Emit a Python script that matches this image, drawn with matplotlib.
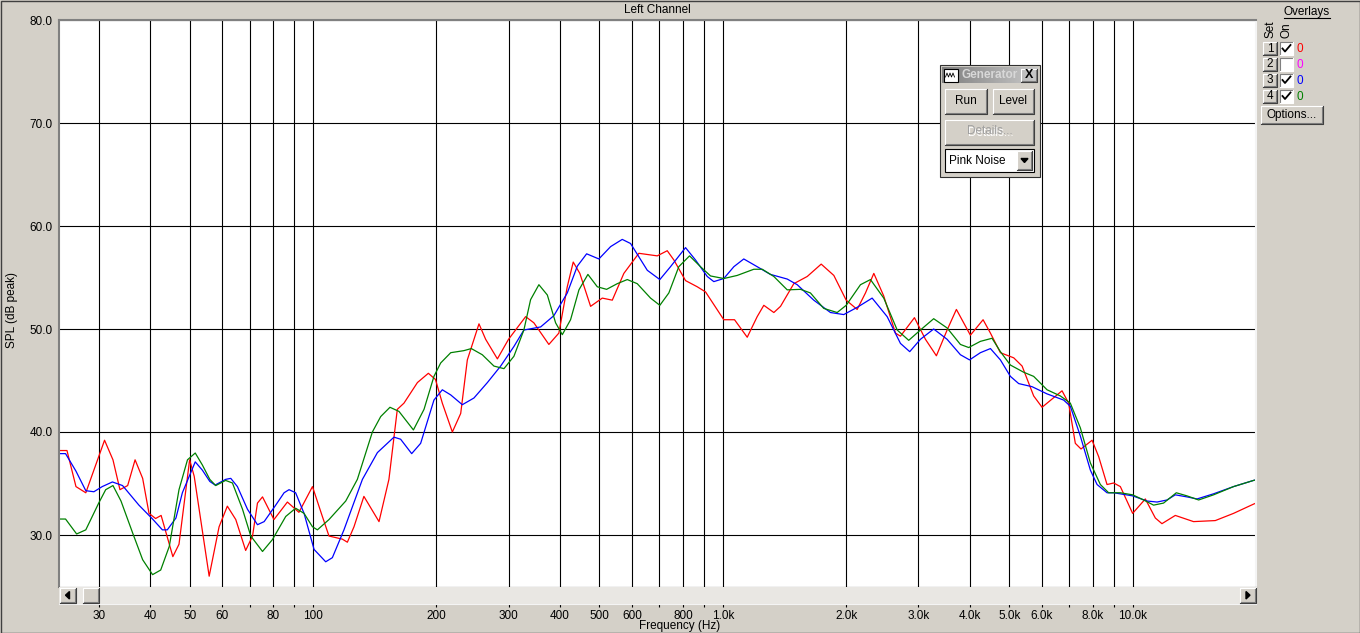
import numpy as np
import matplotlib.pyplot as plt
from matplotlib.patches import Rectangle, Polygon
from matplotlib.ticker import NullLocator

plt.rcParams['font.family'] = ['Liberation Sans', 'DejaVu Sans']
plt.rcParams['font.size'] = 8.5

# --- data (Hz, dB peak) ---
red_f = [24.1, 25.1, 26.4, 27.9, 31.0, 32.5, 33.8, 35.3, 36.8, 38.4, 39.8, 41.3, 42.6,
         45.5, 47.1, 50.0, 51.3, 55.8, 59.0, 61.8, 64.8, 68.5, 71.2, 73.2, 75.3, 80.3,
         86.6, 92.4, 99.7, 105.4, 109.4, 117.9, 121.3, 125.9, 133.1, 144.9, 153.2, 160.6,
         166.7, 179.8, 191.2, 199, 206.8, 218.8, 229.3, 238, 254.1, 263.8, 281.8, 300,
         330.3, 345.9, 376.3, 398, 417.3, 431.5, 447.8, 475.7, 508, 537.4, 573.5, 623.8,
         691.8, 731.8, 759.6, 811, 866.1, 907.5, 1005.5, 1068, 1147, 1213, 1259, 1332,
         1383, 1490, 1607, 1738, 1866, 2000, 2127, 2229, 2336, 2470, 2638, 2713, 2935,
         3122, 3320, 3526, 3715, 4019, 4316, 4498, 4757, 5127, 5374, 5735, 6012, 6726,
         6980, 7247, 7482, 7962, 8264, 8660, 8990, 9333, 10000, 10740, 11360, 11790,
         12710, 14080, 15910, 17630, 19730, 20000]
red_db = [38.2, 38.2, 34.7, 34.1, 39.2, 37.3, 34.4, 34.8, 37.3, 35.5, 32.1, 31.6, 31.9,
          27.9, 29.1, 37.3, 35.7, 26.0, 30.8, 32.8, 31.5, 28.5, 29.9, 33.1, 33.7, 31.5,
          33.2, 32.2, 34.7, 31.8, 29.9, 29.6, 29.3, 30.8, 33.75, 31.3, 35.4, 42.2,
          42.8, 44.8, 45.7, 45.1, 42.8, 40.0, 41.8, 47.0, 50.5, 49.0, 47.1, 49.0,
          51.2, 50.6, 48.5, 49.6, 54.1, 56.5, 55.4, 52.2, 53.0, 52.8, 55.4, 57.35,
          57.1, 57.6, 56.7, 54.7, 54.1, 53.6, 50.9, 50.9, 49.2, 51.2, 52.3, 51.6,
          52.2, 54.4, 55.1, 56.3, 55.2, 52.8, 51.9, 53.5, 55.4, 53.2, 49.6, 49.3, 51.1,
          49.0, 47.4, 49.9, 51.9, 49.4, 50.9, 49.6, 47.7, 47.2, 46.4, 43.5, 42.4, 44.0,
          42.8, 38.9, 38.35, 39.2, 37.6, 34.9, 35.05, 34.7, 32.1, 33.5, 31.65, 31.1,
          31.9, 31.3, 31.4, 32.1, 33.0, 33.1]

blue_f = [24.1, 24.9, 26.4, 27.9, 29.2, 30.6, 32.4, 34.3, 37.6, 40.6, 42.9, 44.1, 46.3,
          48.0, 51.6, 53.7, 56.0, 57.7, 61.2, 63.0, 65.4, 69.2, 73.2, 76.0, 81.1, 85.0,
          87.4, 90.7, 95.1, 100.6, 107.4, 111.5, 119.0, 132.0, 143.6, 157.6, 163.6,
          174.1, 183.1, 197.3, 206.8, 216.8, 231.4, 247, 266.4, 287, 309.2, 327, 359.3,
          387.1, 417.3, 441.5, 465.3, 498.4, 532.4, 568.3, 595.5, 654.2, 702, 745.4,
          811, 857.8, 916.2, 950.6, 1005.5, 1064, 1125, 1213, 1307, 1436, 1519, 1667,
          1831, 1973, 2127, 2314, 2518, 2713, 2858, 3035, 3270, 3526, 3800, 4000, 4251,
          4498, 4757, 5032, 5272, 5683, 6182, 6787, 7047, 7455, 7886, 8189, 8660, 8990,
          10000, 10840, 11470, 12130, 12710, 13570, 14360, 15760, 17630, 19730, 20000]
blue_db = [37.9, 37.9, 36.2, 34.3, 34.2, 34.7, 35.15, 34.8, 32.9, 31.55, 30.5, 30.5, 31.65,
           34.1, 37.1, 36.3, 35.2, 34.85, 35.4, 35.5, 34.7, 32.5, 31.0, 31.3, 32.9, 34.1,
           34.4, 34.1, 32.1, 28.6, 27.4, 27.8, 30.5, 35.4, 38.0, 39.5, 39.3,
           37.9, 38.9, 43.1, 44.1, 43.6, 42.65, 43.3, 44.8, 46.4, 48.3, 49.9, 50.2,
           51.3, 53.5, 56.1, 57.3, 56.8, 58.0, 58.7, 58.3, 55.7, 54.8, 56.05,
           57.9, 56.7, 55.1, 54.6, 54.9, 56.05, 56.8, 56.05, 55.3, 54.85, 54.3, 52.8,
           51.6, 51.4, 52.1, 53.0, 51.2, 48.6, 47.8, 49.0, 50.0, 49.0, 47.5, 47.0, 47.7,
           48.1, 47.0, 45.4, 44.7, 44.4, 43.7, 43.1, 42.5, 39.6, 36.3, 34.9, 34.1, 34.1,
           33.8, 33.3, 33.2, 33.4, 33.9, 33.7, 33.5, 34.0, 34.7, 35.3, 35.35]

green_f = [24.1, 24.9, 26.5, 27.9, 30.0, 31.2, 32.5, 34.0, 36.3, 38.4, 40.6, 42.5, 44.6,
           47.1, 49.4, 51.6, 53.7, 56.0, 57.9, 61.2, 63.6, 67.3, 70.5, 75.3, 79.6, 85.8,
           90.7, 95.1, 99.7, 102.5, 109.4, 120.2, 128.3, 139.6, 146.3, 154.1, 162.1,
           175.8, 186.6, 197.3, 204.9, 216.8, 233.5, 243.4, 258.9, 276.4, 292.4, 309.2,
           327, 339.6, 355.8, 373.1, 390.8, 405.8, 425.1, 445.6, 468.6, 494, 520.5,
           552.6, 584.6, 618.3, 666.3, 702, 738.4, 780.9, 829.5, 882.2, 933.3, 1005.5,
           1084, 1190, 1248, 1332, 1436, 1547, 1636, 1763, 1901, 2000, 2167, 2292, 2470,
           2664, 2842, 3035, 3270, 3526, 3800, 3981, 4251, 4539, 4757, 5032, 5423, 5735,
           6182, 6663, 7047, 7455, 7886, 8341, 8739, 9333, 10000, 10640, 11250, 11900,
           12780, 13570, 14490, 15760, 17630, 19730, 20000]
green_db = [31.55, 31.55, 30.1, 30.5, 33.1, 34.4, 34.8, 33.3, 30.2, 27.6, 26.15, 26.6, 28.9,
            34.4, 37.3, 37.96, 36.8, 35.4, 34.8, 35.3, 35.05, 32.5, 29.9, 28.4, 29.55, 31.8,
            32.6, 32.1, 30.8, 30.5, 31.5, 33.3, 35.4, 40.0, 41.5, 42.4, 42.0,
            40.2, 42.2, 45.4, 46.7, 47.7, 47.9, 48.1, 47.5, 46.4, 46.15, 47.35,
            49.9, 52.85, 54.3, 53.3, 50.6, 49.45, 50.9, 53.8, 55.3, 54.1, 53.85,
            54.4, 54.8, 54.4, 53.0, 52.3, 53.5, 56.05, 57.1, 56.05, 55.15, 54.9,
            55.2, 55.8, 55.8, 55.1, 53.8, 53.85, 53.5, 52.0, 51.6, 52.3, 54.3, 54.8, 53.0,
            49.9, 48.9, 49.9, 51.0, 50.1, 48.5, 48.2, 48.8, 49.1, 47.8, 46.5, 45.8, 45.4,
            44.1, 43.5, 42.8, 40.4, 37.0, 34.9, 34.1, 34.1, 33.9, 33.4, 32.9, 33.1,
            34.1, 33.8, 33.4, 33.9, 34.7, 35.3, 35.35]

tick_f = [30, 40, 50, 60, 70, 80, 90, 100, 200, 300, 400, 500, 600, 700, 800, 900,
          1000, 2000, 3000, 4000, 5000, 6000, 7000, 8000, 9000, 10000]
tick_lbl = ['30', '40', '50', '60', '', '80', '', '100', '200', '300', '400', '500', '600',
            '', '800', '', '1.0k', '2.0k', '3.0k', '4.0k', '5.0k', '6.0k', '', '8.0k', '',
            '10.0k']
y_ticks = [30, 40, 50, 60, 70, 80]

BG = '#D4D0C8'
W, H = 1360, 633

fig = plt.figure(figsize=(13.6, 6.33), dpi=100, facecolor=BG)

L, R, T, B = 59, 1256, 20, 586.5
ax = fig.add_axes([L / W, 1 - B / H, (R - L) / W, (B - T) / H])
sax = fig.add_axes([L / W, 1 - 604 / H, (R - L) / W, (604 - B) / H], sharex=ax)

ax.plot(red_f, red_db, color='#FF0000', lw=0.9)
ax.plot(blue_f, blue_db, color='#0000FF', lw=0.9)
ax.plot(green_f, green_db, color='#008000', lw=0.9)

ax.set_xscale('log')
ax.set_xlim(24, 20000)
ax.set_ylim(25, 80)
ax.set_xticks(tick_f, tick_lbl)
ax.xaxis.set_minor_locator(NullLocator())
ax.set_yticks(y_ticks, ['%.1f' % v for v in y_ticks])
ax.grid(True, color='black', lw=0.8)
ax.tick_params(axis='x', length=0, labelbottom=False)
ax.tick_params(axis='y', length=0, pad=4.5, labelsize=8.5)
for s in ['top', 'left']:
    ax.spines[s].set_color('#808080')
    ax.spines[s].set_linewidth(1.5)
ax.spines['right'].set_color('#F4F4F4')
ax.spines['right'].set_linewidth(1.5)
ax.spines['bottom'].set_color('black')
ax.spines['bottom'].set_linewidth(0.8)

# scrollbar strip with the frequency labels under it
sax.set_facecolor('#E9E7E3')
sax.set_yticks([])
sax.tick_params(axis='x', direction='out', length=2.5, width=0.8, pad=1.8,
                labelsize=8.5, color='black')
for s in ['top', 'left', 'bottom']:
    sax.spines[s].set_visible(False)
sax.spines['right'].set_color('#F4F4F4')
sax.spines['bottom'].set_visible(True)
sax.spines['bottom'].set_color('#F4F4F4')

# pixel overlay for window furniture
ov = fig.add_axes([0, 0, 1, 1], zorder=10)
ov.set_xlim(0, W)
ov.set_ylim(H, 0)
ov.axis('off')
ov.patch.set_alpha(0)


def bevel(x0, y0, x1, y1, face=BG):
    ov.add_patch(Rectangle((x0, y0), x1 - x0, y1 - y0, facecolor=face, edgecolor='none'))
    ov.plot([x0, x0, x1], [y1, y0, y0], color='white', lw=0.8)
    ov.plot([x0 + 1, x1 - 1, x1 - 1], [y1 - 1, y1 - 1, y0 + 1], color='#808080', lw=0.8)
    ov.plot([x0, x1, x1], [y1, y1, y0], color='#404040', lw=0.8)


def sunken(x0, y0, x1, y1, face='white'):
    ov.add_patch(Rectangle((x0, y0), x1 - x0, y1 - y0, facecolor=face, edgecolor='none'))
    ov.plot([x0, x0, x1], [y1, y0, y0], color='#808080', lw=0.8)
    ov.plot([x0, x1, x1], [y1, y1, y0], color='white', lw=0.8)


# outer border
ov.add_patch(Rectangle((0.5, 0.5), W - 1, H - 1, facecolor='none', edgecolor='#404040', lw=1))

ov.text(657, 10, 'Left Channel', ha='center', va='center')
ov.text(12, 310, 'SPL (dB peak)', ha='center', va='center', rotation=90)
ov.text(680, 626, 'Frequency (Hz)', ha='center', va='center')

# scroll buttons
bevel(60, 587.5, 75.5, 603)
ov.add_patch(Polygon([[69.5, 591.5], [69.5, 599], [65.5, 595.2]], closed=True, color='black'))
bevel(83, 587.5, 99, 603)
bevel(1240, 587.5, 1255.5, 603)
ov.add_patch(Polygon([[1246, 591.5], [1246, 599], [1250, 595.2]], closed=True, color='black'))

# generator window
ov.add_patch(Rectangle((940, 65), 100, 112, facecolor=BG, edgecolor='#303030', lw=0.8))
grad = np.linspace(0, 1, 64).reshape(1, -1)
ov.imshow(grad, cmap=plt.matplotlib.colors.LinearSegmentedColormap.from_list(
    'tb', ['#808080', '#C8C8C8']), extent=(942, 1038, 83, 67), aspect='auto', zorder=2)
ov.set_xlim(0, W)
ov.set_ylim(H, 0)
ov.add_patch(Rectangle((943.5, 68.5), 14, 13, facecolor='white', edgecolor='black', lw=0.8,
                       zorder=3))
ov.plot([945.5, 947, 948.5, 950, 951.5, 953, 954.5], [77, 73, 77, 73, 77, 73, 77],
        color='black', lw=0.6, zorder=4)
ov.text(961, 75.5, 'Generator', ha='left', va='center', fontweight='bold', color='#D8D8D8',
        zorder=4)
bevel(1021, 68.5, 1036.5, 81.5)
ov.text(1028.7, 75.2, 'X', ha='center', va='center', fontweight='bold', fontsize=9)
bevel(945, 89, 987, 114)
ov.text(966, 101.5, 'Run', ha='center', va='center')
bevel(993, 89, 1034, 114)
ov.text(1013.5, 101.5, 'Level', ha='center', va='center')
bevel(945, 119.5, 1034, 144.5)
ov.text(990.5, 132.5, 'Details...', ha='center', va='center', color='white')
ov.text(989.5, 131.5, 'Details...', ha='center', va='center', color='#A0A0A0')
ov.add_patch(Rectangle((945, 149), 89, 23, facecolor='white', edgecolor='black', lw=0.8))
ov.text(949, 160.5, 'Pink Noise', ha='left', va='center')
bevel(1017, 151, 1032, 170)
ov.add_patch(Polygon([[1021, 158.5], [1028, 158.5], [1024.5, 162.5]], closed=True,
                     color='black'))

# overlays panel
ov.text(1307, 12.5, 'Overlays', ha='center', va='center')
ov.plot([1284, 1330], [17.8, 17.8], color='black', lw=0.8)
ov.text(1270, 29, 'Set', ha='center', va='center', rotation=90)
ov.text(1286, 30, 'On', ha='center', va='center', rotation=90)
row_y = [48.5, 64, 80, 96]
row_on = [True, False, True, True]
row_col = ['#FF0000', '#FF00FF', '#0000FF', '#008000']
for i, yc in enumerate(row_y):
    bevel(1263, yc - 6.5, 1277, yc + 6.5)
    ov.text(1270, yc, str(i + 1), ha='center', va='center')
    sunken(1280, yc - 6.5, 1293, yc + 6.5)
    if row_on[i]:
        ov.plot([1282.5, 1285, 1290.5], [yc, yc + 3, yc - 3.5], color='black', lw=1.3)
    ov.text(1296.5, yc + 0.5, '0', ha='left', va='center', color=row_col[i])
bevel(1261, 106, 1323, 124)
ov.text(1292, 115, 'Options...', ha='center', va='center')

fig.savefig('out.png', dpi=100, facecolor=BG)
